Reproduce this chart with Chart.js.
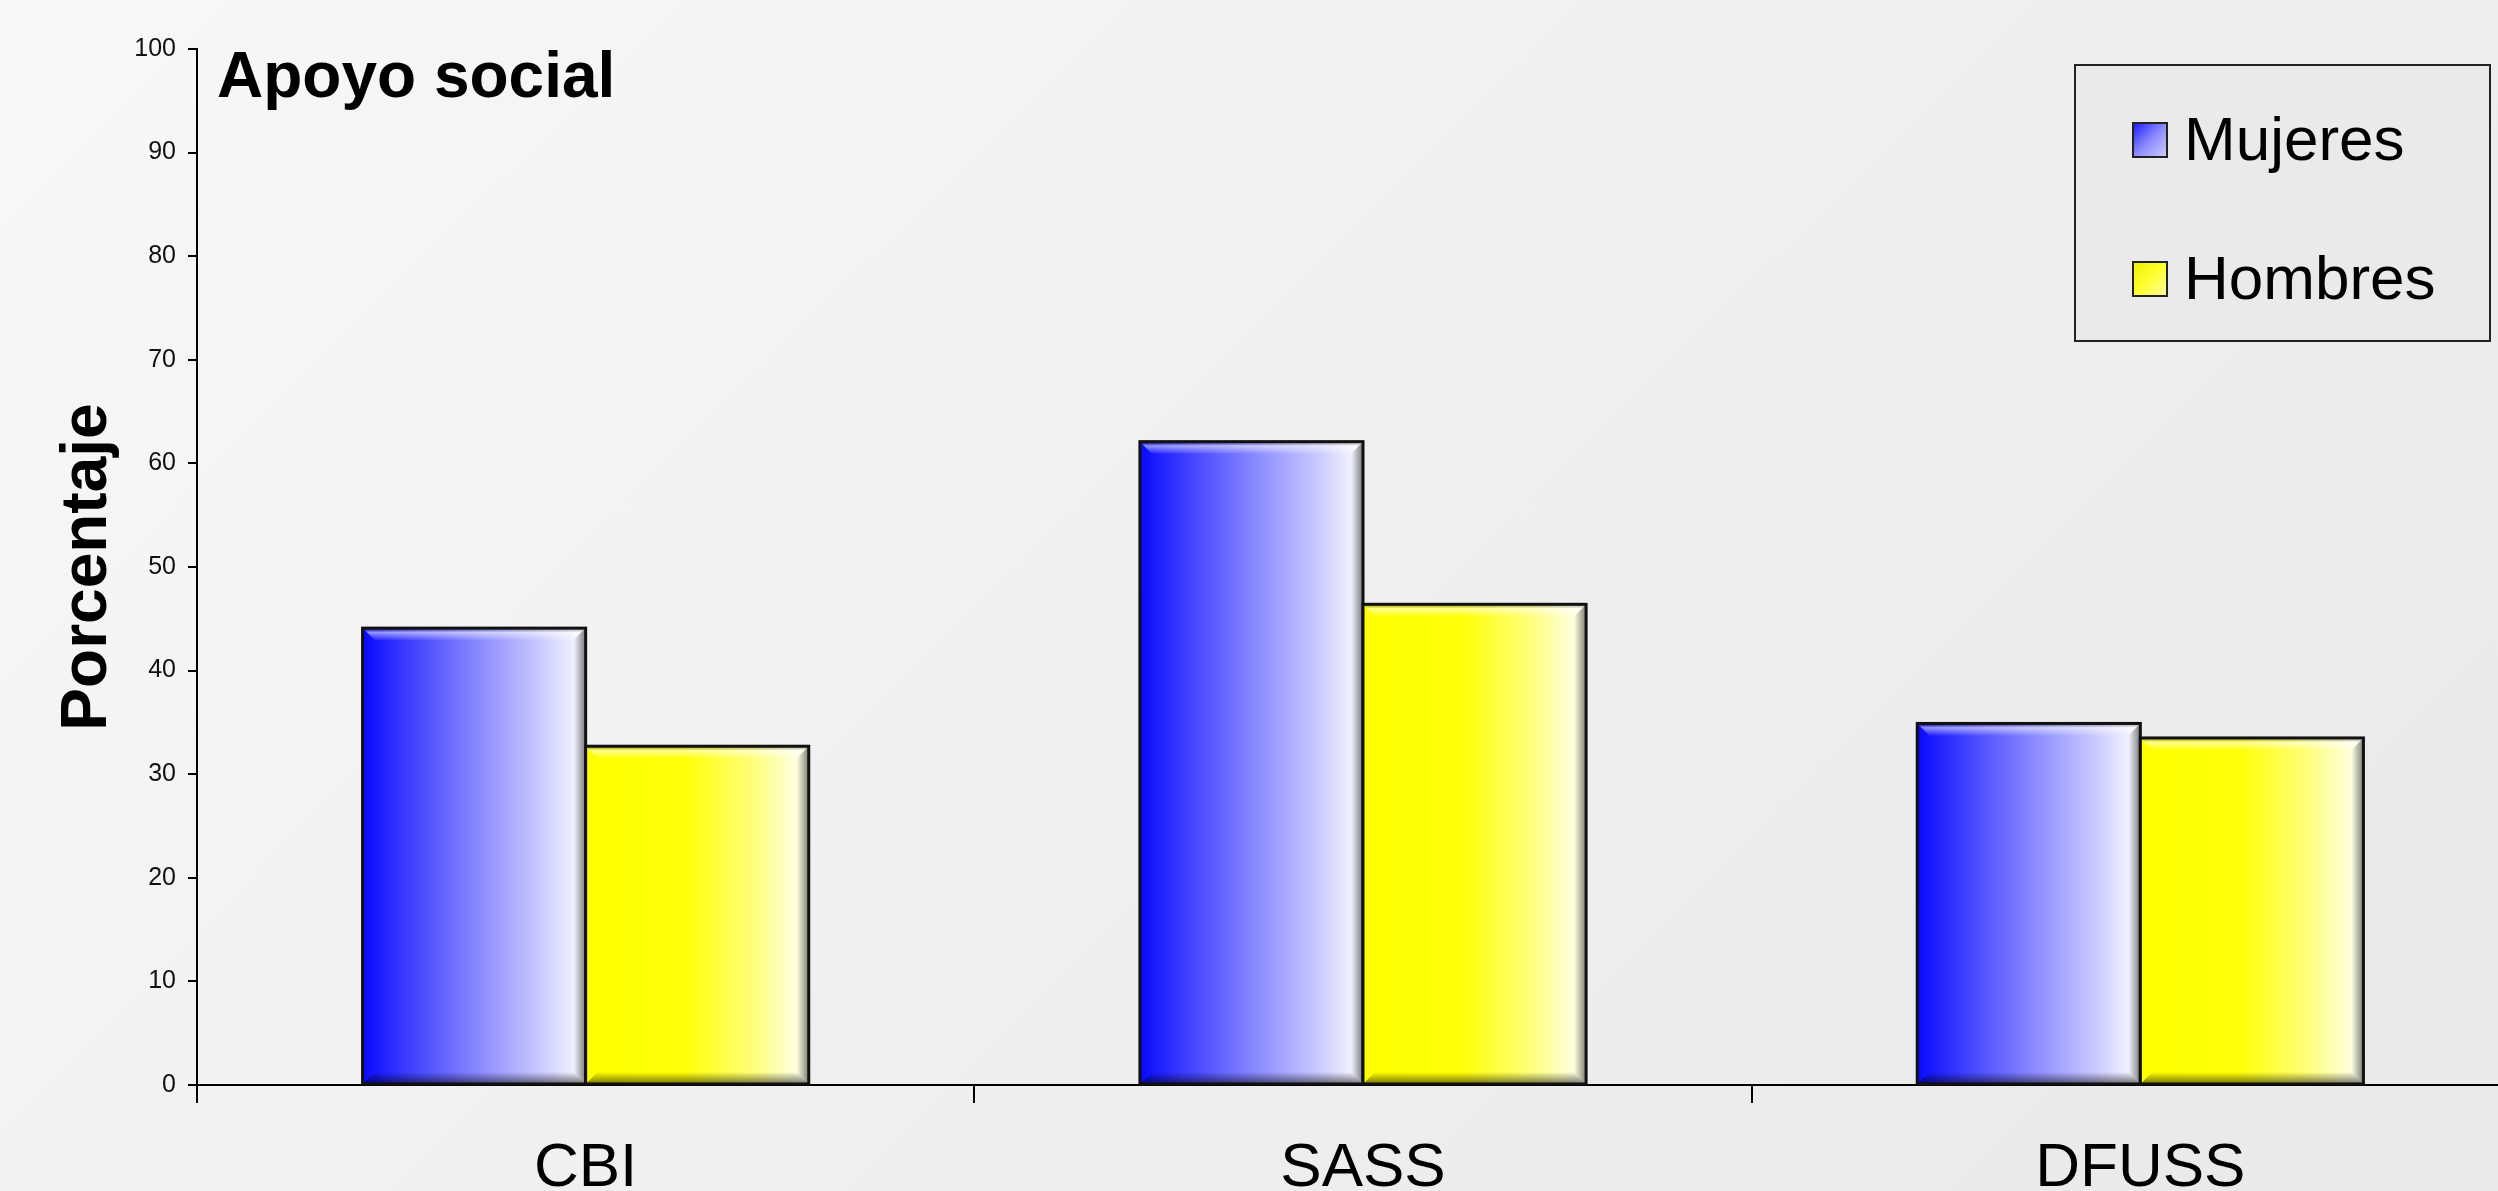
<!DOCTYPE html>
<html>
<head>
<meta charset="utf-8">
<script src="https://cdn.jsdelivr.net/npm/chart.js@4.4.0/dist/chart.umd.min.js"></script>
<style>
  html, body { margin: 0; padding: 0; overflow: hidden; }
  body { width: 2498px; height: 1191px; background: linear-gradient(135deg, #f8f8f8 0%, #efefef 55%, #e9e9e9 100%); }
  #wrap { position: relative; width: 2540px; height: 1191px; }
</style>
</head>
<body>
<div id="wrap"><canvas id="myChart"></canvas></div>
<script>
const categories = ['CBI', 'SASS', 'DFUSS'];
const mujeres = [44.1, 62.1, 34.9];
const hombres = [32.7, 46.4, 33.5];
const yTicks = [0, 10, 20, 30, 40, 50, 60, 70, 80, 90, 100];

const FONT = '"Liberation Sans", Arial, Helvetica, sans-serif';

// gradient stops for the shaded bars
const shades = [
  [[0, '#0808ff'], [0.15, '#3030ff'], [0.5, '#8585ff'], [0.8, '#cacaff'], [0.96, '#f4f4ff']],
  [[0, '#ffff00'], [0.45, '#ffff08'], [0.75, '#ffff7a'], [0.96, '#ffffe6']]
];

// paints the bevelled gradient on top of each bar
const bevelBars = {
  id: 'bevelBars',
  afterDatasetsDraw(chart) {
    const ctx = chart.ctx;
    chart.data.datasets.forEach((ds, i) => {
      chart.getDatasetMeta(i).data.forEach((bar) => {
        const p = bar.getProps(['x', 'y', 'base', 'width'], true);
        const x0 = p.x - p.width / 2, x1 = p.x + p.width / 2;
        const y0 = p.y, y1 = p.base;
        const b = 12;
        ctx.save();
        const g = ctx.createLinearGradient(x0, 0, x1, 0);
        shades[i].forEach(s => g.addColorStop(s[0], s[1]));
        ctx.fillStyle = g;
        ctx.fillRect(x0, y0, x1 - x0, y1 - y0);

        // top highlight
        ctx.beginPath();
        ctx.moveTo(x0, y0); ctx.lineTo(x1, y0); ctx.lineTo(x1 - b, y0 + b); ctx.lineTo(x0 + b, y0 + b);
        ctx.closePath();
        const gt = ctx.createLinearGradient(0, y0, 0, y0 + b);
        gt.addColorStop(0, 'rgba(0,0,0,0.25)');
        gt.addColorStop(0.35, 'rgba(255,255,255,0.55)');
        gt.addColorStop(1, 'rgba(255,255,255,0.05)');
        ctx.fillStyle = gt;
        ctx.fill();

        // right shadow
        ctx.beginPath();
        ctx.moveTo(x1, y0); ctx.lineTo(x1, y1); ctx.lineTo(x1 - b, y1 - b); ctx.lineTo(x1 - b, y0 + b);
        ctx.closePath();
        const gr = ctx.createLinearGradient(x1 - b, 0, x1, 0);
        gr.addColorStop(0, 'rgba(0,0,0,0)');
        gr.addColorStop(1, 'rgba(0,0,0,0.5)');
        ctx.fillStyle = gr;
        ctx.fill();

        // bottom shadow
        ctx.beginPath();
        ctx.moveTo(x0, y1); ctx.lineTo(x1, y1); ctx.lineTo(x1 - b, y1 - b); ctx.lineTo(x0 + b, y1 - b);
        ctx.closePath();
        const gb = ctx.createLinearGradient(0, y1 - b, 0, y1);
        gb.addColorStop(0, 'rgba(0,0,0,0)');
        gb.addColorStop(1, 'rgba(0,0,0,0.55)');
        ctx.fillStyle = gb;
        ctx.fill();

        ctx.strokeStyle = '#111';
        ctx.lineWidth = 3;
        ctx.strokeRect(x0, y0, x1 - x0, y1 - y0);
        ctx.restore();
      });
    });
  }
};

// chart title and boxed legend
const decorations = {
  id: 'decorations',
  afterDraw(chart) {
    const ctx = chart.ctx;
    ctx.save();
    ctx.fillStyle = '#000';
    ctx.font = 'bold 64px ' + FONT;
    ctx.textBaseline = 'alphabetic';
    ctx.fillText('Apoyo social', 217, 97);

    ctx.fillStyle = '#eaeaea';
    ctx.fillRect(2075, 65, 415, 276);
    ctx.strokeStyle = '#222';
    ctx.lineWidth = 2;
    ctx.strokeRect(2075, 65, 415, 276);

    const items = [['Mujeres', 140, 0], ['Hombres', 279, 1]];
    items.forEach(([label, cy, i]) => {
      const sx = 2133, sy = cy - 17, s = 34;
      const g = ctx.createLinearGradient(sx, sy, sx + s, sy + s);
      g.addColorStop(0, i === 0 ? '#1a1aff' : '#eeee00');
      g.addColorStop(0.5, i === 0 ? '#8a8aff' : '#ffff30');
      g.addColorStop(1, i === 0 ? '#d0d0ff' : '#ffffa0');
      ctx.fillStyle = g;
      ctx.fillRect(sx, sy, s, s);
      ctx.strokeStyle = '#222';
      ctx.lineWidth = 2;
      ctx.strokeRect(sx, sy, s, s);
      ctx.fillStyle = '#000';
      ctx.font = '62px ' + FONT;
      ctx.textBaseline = 'middle';
      ctx.fillText(label, 2184, cy + 3);
    });
    ctx.restore();
  }
};

const ctx = document.getElementById('myChart').getContext('2d');
const chart = new Chart(ctx, {
  type: 'bar',
  data: {
    labels: categories,
    datasets: [{
      label: 'Mujeres',
      data: mujeres,
      backgroundColor: '#4040ff',
      borderColor: '#111',
      borderWidth: 3,
      categoryPercentage: 0.574,
      barPercentage: 1
    }, {
      label: 'Hombres',
      data: hombres,
      backgroundColor: '#ffff00',
      borderColor: '#111',
      borderWidth: 3,
      categoryPercentage: 0.574,
      barPercentage: 1
    }]
  },
  options: {
    responsive: true,
    maintainAspectRatio: false,
    animation: false,
    layout: { padding: { left: 0, right: 11, top: 49, bottom: 0 } },
    plugins: {
      legend: { display: false },
      tooltip: { enabled: false }
    },
    scales: {
      x: {
        afterFit(scale) { scale.height = 106; },
        grid: { offset: true, drawOnChartArea: false, drawTicks: true, tickLength: 18, color: '#000', lineWidth: 2 },
        border: { color: '#000', width: 2 },
        ticks: { color: '#000', font: { family: FONT, size: 62 }, padding: 29, maxRotation: 0 }
      },
      y: {
        min: 0,
        max: 100,
        afterFit(scale) { scale.width = 197; },
        afterBuildTicks(scale) { scale.ticks = yTicks.map(v => ({ value: v })); },
        grid: { drawOnChartArea: false, drawTicks: true, tickLength: 9, color: '#000', lineWidth: 2 },
        border: { color: '#000', width: 2 },
        ticks: { color: '#111', font: { family: FONT, size: 25 }, padding: 12 },
        title: {
          display: true,
          text: 'Porcentaje',
          color: '#000',
          font: { family: FONT, size: 64, weight: 'bold' },
          padding: { top: 50, bottom: 0 }
        }
      }
    }
  },
  plugins: [bevelBars, decorations]
});
</script>
</body>
</html>
